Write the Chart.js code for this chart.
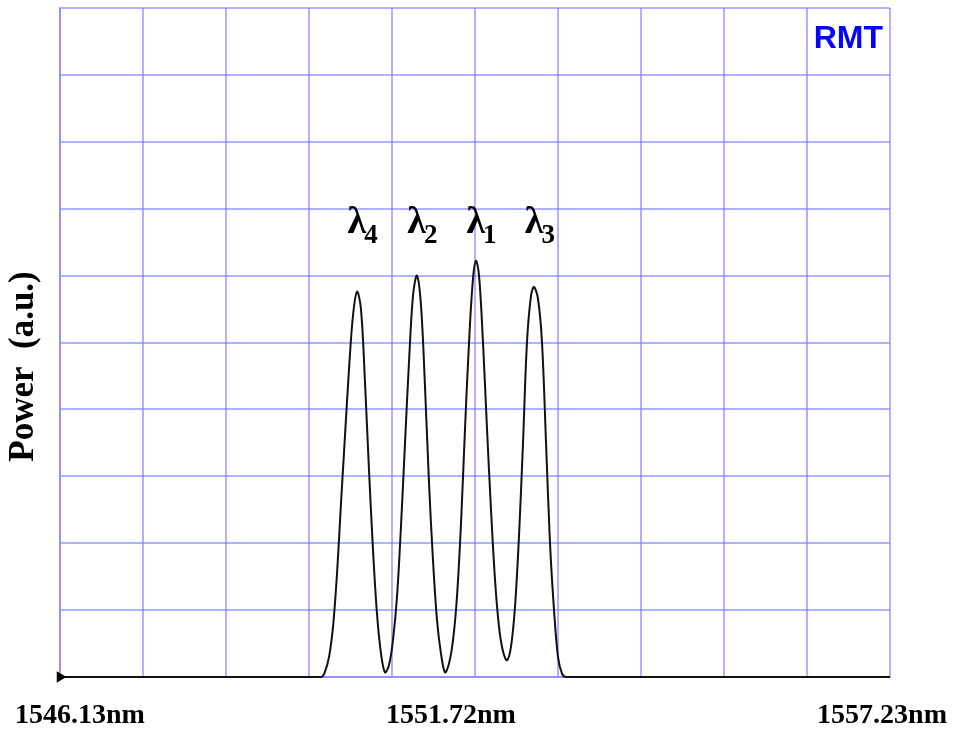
<!DOCTYPE html>
<html><head><meta charset="utf-8">
<script src="https://cdn.jsdelivr.net/npm/chart.js@4/dist/chart.umd.min.js"></script>
<style>html,body{margin:0;padding:0;background:#fff;}#wrap{width:953px;height:729px;}</style>
</head><body><div id="wrap"><canvas id="c" width="953" height="729"></canvas></div>
<script>
// ---- data ----
const wavelengthNm = [
  1546.130,
  1549.621, 1549.674, 1549.728, 1549.781, 1549.835, 1549.888, 1549.941, 1549.995, 1550.048,
  1550.102, 1550.155, 1550.209, 1550.262, 1550.316, 1550.369, 1550.423, 1550.476,
  1550.530, 1550.583, 1550.637, 1550.690, 1550.744, 1550.797, 1550.851, 1550.904,
  1550.958, 1551.011, 1551.065, 1551.118, 1551.172, 1551.225, 1551.279,
  1551.332, 1551.386, 1551.439, 1551.493, 1551.546, 1551.600, 1551.653, 1551.693,
  1551.734, 1551.787, 1551.841, 1551.894, 1551.948, 1552.001, 1552.055, 1552.108,
  1552.161, 1552.215, 1552.268, 1552.322, 1552.375, 1552.429, 1552.469,
  1552.523, 1552.576, 1552.630, 1552.683, 1552.737, 1552.790, 1552.844, 1552.897,
  1557.230
];
const powerAu = [
  0,
  0, 0.08, 0.3, 0.75, 1.55, 2.6, 3.6, 4.6, 5.4,
  5.76, 5.5, 4.4, 3.1, 1.9, 0.95, 0.35, 0.07,
  0.18, 0.55, 1.2, 2.25, 3.5, 4.7, 5.7, 6.0,
  5.55, 4.35, 2.9, 1.75, 0.85, 0.35, 0.07,
  0.2, 0.55, 1.2, 2.3, 3.7, 5.0, 5.95, 6.22,
  6.0, 5.0, 3.7, 2.5, 1.45, 0.75, 0.38, 0.25,
  0.45, 1.05, 2.1, 3.5, 5.0, 5.7, 5.83,
  5.65, 5.0, 3.5, 2.0, 1.0, 0.3, 0.05, 0,
  0
];
const peakSubscripts = ['4', '2', '1', '3'];
const peakNm = [1550.10, 1550.90, 1551.69, 1552.47];
const axisLabels = ['1546.13nm', '1551.72nm', '1557.23nm'];
const xMin = 1546.13, xMax = 1557.23;
const yMin = 0, yMax = 10;
const yTitle = 'Power  (a.u.)';
const brandText = 'RMT';
const labelLevel = 6.63;

const points = wavelengthNm.map((x, i) => ({ x: x, y: powerAu[i] }));
const SERIF = '"Liberation Serif", "Times New Roman", serif';
const GRID = 'rgba(125,125,255,0.6)';

const overlay = {
  id: 'overlay',
  afterDatasetsDraw(chart) {
    const ctx = chart.ctx, ca = chart.chartArea;
    const xs = chart.scales.x, ys = chart.scales.y;
    ctx.save();
    // brand
    ctx.fillStyle = '#0505ff';
    ctx.font = 'bold 32px "Liberation Sans", Arial, sans-serif';
    ctx.textAlign = 'right';
    ctx.textBaseline = 'alphabetic';
    ctx.fillText(brandText, ca.right - 7, ca.top + 40);
    // peak labels
    ctx.fillStyle = '#000';
    const ly = ys.getPixelForValue(labelLevel);
    peakNm.forEach((nm, i) => {
      const px = xs.getPixelForValue(nm);
      ctx.font = 'bold 38px ' + SERIF;
      const w = ctx.measureText('λ').width;
      ctx.textAlign = 'center';
      ctx.fillText('λ', px, ly);
      ctx.font = 'bold 27px ' + SERIF;
      ctx.textAlign = 'left';
      ctx.fillText(peakSubscripts[i], px + w / 2 - 2, ly + 10);
    });
    // x labels
    ctx.font = 'bold 28px ' + SERIF;
    const by = ca.bottom + 46;
    ctx.textAlign = 'left';
    ctx.fillText(axisLabels[0], ca.left - 45, by);
    ctx.textAlign = 'center';
    ctx.fillText(axisLabels[1], (ca.left + ca.right) / 2 - 24, by);
    ctx.textAlign = 'right';
    ctx.fillText(axisLabels[2], ca.right + 57, by);
    // y title
    ctx.translate(ca.left - 36, (ca.top + ca.bottom) / 2 + 24);
    ctx.rotate(-Math.PI / 2);
    ctx.font = 'bold 35px ' + SERIF;
    ctx.textAlign = 'center';
    ctx.textBaseline = 'middle';
    ctx.fillText(yTitle, 0, 0);
    ctx.restore();
  }
};

new Chart(document.getElementById('c'), {
  type: 'line',
  data: {
    datasets: [{
      data: points,
      borderColor: '#111',
      borderWidth: 2,
      tension: 0.35,
      clip: false,
      pointRadius: ctx => ctx.dataIndex === 0 ? 4.5 : 0,
      pointStyle: 'triangle',
      rotation: 90,
      pointBackgroundColor: '#000',
      pointBorderColor: '#000',
      fill: false
    }]
  },
  options: {
    responsive: false,
    animation: false,
    devicePixelRatio: 1,
    layout: { padding: { left: 60, right: 63, top: 8, bottom: 52 } },
    plugins: { legend: { display: false }, tooltip: { enabled: false } },
    scales: {
      x: {
        type: 'linear', min: xMin, max: xMax,
        ticks: { display: false, count: 11 },
        grid: { color: GRID, lineWidth: 2, drawTicks: false },
        border: { color: GRID, width: 2 }
      },
      y: {
        min: yMin, max: yMax,
        ticks: { display: false, stepSize: 1 },
        grid: { color: GRID, lineWidth: 2, drawTicks: false },
        border: { color: GRID, width: 2 }
      }
    }
  },
  plugins: [overlay]
});
</script>
</body></html>
